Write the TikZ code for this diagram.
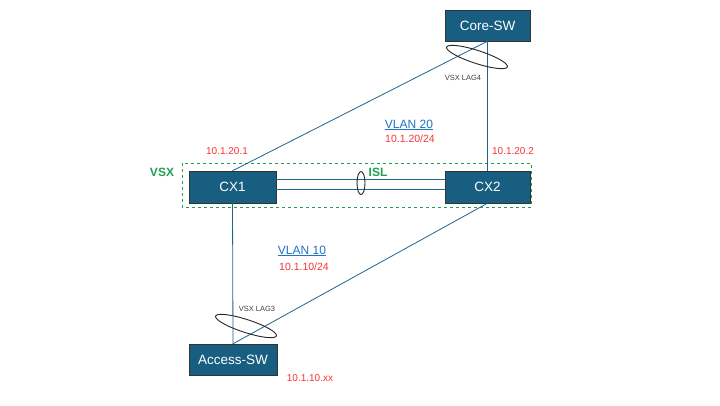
\documentclass[tikz,border=0pt]{standalone}
\usepackage{fontspec}
\setmainfont{Liberation Sans}
\usetikzlibrary{shapes.geometric}

\definecolor{swfill}{RGB}{24,94,128}
\definecolor{swline}{RGB}{31,100,140}
\definecolor{iplabel}{RGB}{250,50,50}
\definecolor{vsxgreen}{RGB}{30,160,80}
\definecolor{vlanblue}{RGB}{30,115,195}

\tikzset{
	switch/.style={draw=black!80, fill=swfill, text=white, minimum width=#1, minimum height=31pt, inner sep=0pt, font=\fontsize{13.5}{15}\selectfont},
	switch/.default=86pt,
	link/.style={draw=swline, line width=0.8pt},
	lagring/.style={draw=black!85, line width=0.9pt, ellipse, minimum width=64pt, minimum height=13pt, inner sep=0pt, rotate=-18},
	laglabel/.style={text=black!75, font=\fontsize{7.5}{9}\selectfont},
	ip/.style={text=iplabel, font=\fontsize{10}{11}\selectfont},
	vlan/.style={text=vlanblue, font=\fontsize{12}{13}\selectfont},
	vsxtext/.style={text=vsxgreen, font=\bfseries\fontsize{12}{13}\selectfont}
}

\begin{document}
\begin{tikzpicture}[x=1pt, y=-1pt]
	\useasboundingbox (0,0) rectangle (720,405);
	
	% VSX domain
	\draw[vsxgreen, dashed, line width=0.7pt] (182,163) rectangle (531,207);
	\node[vsxtext] (vsx) at (162,172){VSX};
	
	% switches
	\node[switch=85pt] (core) at (487.5,25.5){Core-SW};
	\node[switch=87pt, minimum height=32pt] (cx1) at (232.5,187){CX1};
	\node[switch=85pt, minimum height=32pt] (cx2) at (487.5,187){CX2};
	\node[switch=88pt] (access) at (233,359.5){Access-SW};
	
	% links
	\draw[link] (core.south) -- (cx1.north);
	\draw[link] (core.south) -- (cx2.north);
	\draw[link] (cx1.south) -- (access.north);
	\draw[link] (cx2.south) -- (access.north);
	\draw[link] ([yshift=8pt]cx1.east) -- ([yshift=8pt]cx2.west);
	\draw[link] ([yshift=-2pt]cx1.east) -- ([yshift=-2pt]cx2.west);
	
	% LAG rings
	\node[lagring] (lag4) at (477,57){};
	\node[laglabel] (lag4txt) at (463,78){VSX LAG4};
	\node[lagring] (lag3) at (246,326){};
	\node[laglabel] (lag3txt) at (257,309){VSX LAG3};
	\node[draw=black!85, line width=0.9pt, ellipse, minimum width=8pt, minimum height=23pt, inner sep=0pt] (islring) at (361,183){};
	\node[vsxtext] (isl) at (378,172){ISL};
	
	% addresses
	\node[ip] (ipcx1) at (227,151){10.1.20.1};
	\node[ip] (ipcx2) at (513,151){10.1.20.2};
	\node[ip] (ipacc) at (310,378){10.1.10.xx};
	\node[vlan] (vlan20) at (409,125){\underline{VLAN 20}};
	\node[ip, font=\fontsize{10.5}{11}\selectfont] (net20) at (410,139){10.1.20/24};
	\node[vlan] (vlan10) at (302,251){\underline{VLAN 10}};
	\node[ip, font=\fontsize{10.5}{11}\selectfont] (net10) at (304,267){10.1.10/24};
\end{tikzpicture}
\end{document}
